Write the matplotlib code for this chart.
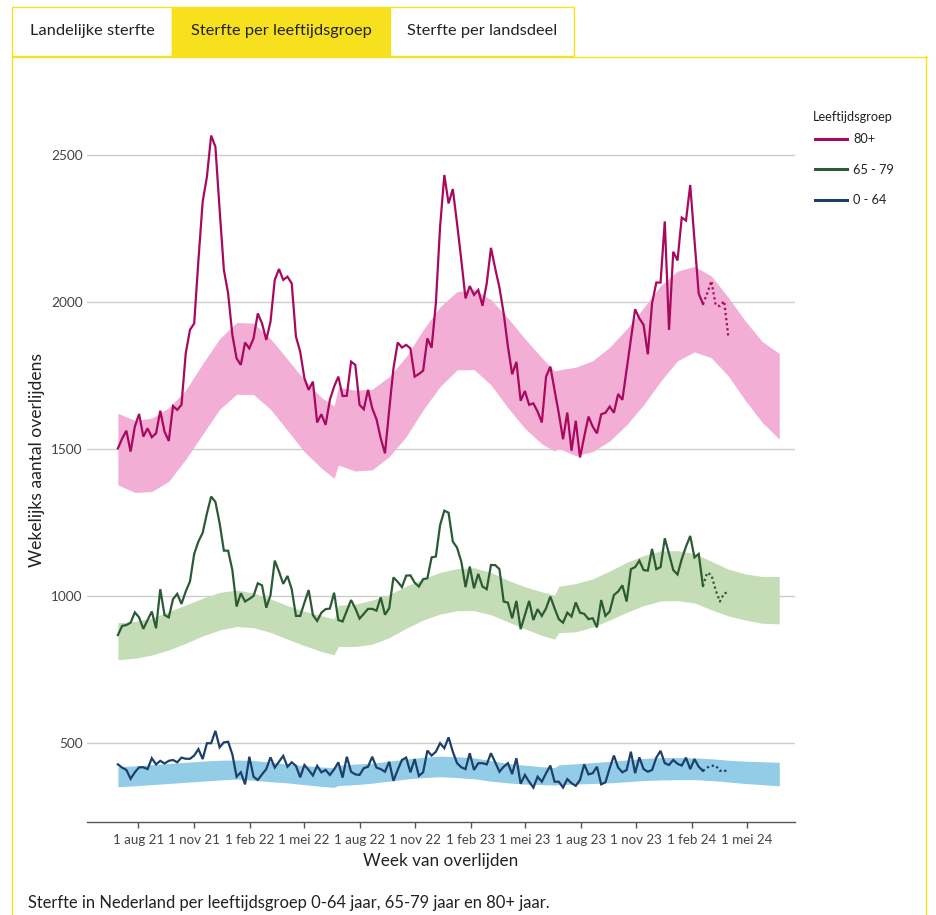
import numpy as np
import matplotlib
matplotlib.use('Agg')
import matplotlib.pyplot as plt
from matplotlib.patches import Rectangle
from matplotlib.lines import Line2D

plt.rcParams['font.family'] = ['Lato', 'DejaVu Sans']

# weekly deaths, week index 0 = week starting 2021-06-28
start_week = np.datetime64('2021-06-28')
n_solid = 139   # last weeks (index 138 onward) are provisional -> dotted

deaths_80 = [
    1502, 1535, 1562, 1491, 1576, 1619, 1542, 1570, 1540, 1553,
    1630, 1559, 1527, 1646, 1633, 1650, 1825, 1905, 1927, 2143,
    2341, 2426, 2566, 2528, 2313, 2109, 2029, 1888, 1808, 1786,
    1862, 1842, 1876, 1961, 1927, 1871, 1933, 2075, 2112, 2075,
    2086, 2063, 1882, 1831, 1740, 1701, 1729, 1590, 1618, 1582,
    1667, 1712, 1746, 1680, 1681, 1797, 1786, 1650, 1635, 1701,
    1638, 1601, 1536, 1485, 1633, 1774, 1862, 1845, 1854, 1842,
    1746, 1755, 1766, 1876, 1844, 1995, 2256, 2432, 2335, 2384,
    2267, 2143, 2012, 2054, 2024, 2041, 1987, 2063, 2184, 2114,
    2049, 1961, 1848, 1754, 1796, 1664, 1697, 1650, 1655, 1627,
    1590, 1746, 1780, 1701, 1621, 1533, 1624, 1494, 1596, 1471,
    1542, 1610, 1576, 1553, 1618, 1623, 1644, 1623, 1687, 1667,
    1769, 1871, 1975, 1944, 1922, 1822, 1995, 2066, 2066, 2274,
    1905, 2171, 2141, 2287, 2277, 2398, 2211, 2029, 1993, 2029,
    2071, 1990, 1986, 2003, 1880]

deaths_65 = [
    867, 898, 901, 909, 944, 927, 888, 918, 947, 890,
    1023, 935, 927, 989, 1007, 973, 1015, 1049, 1143, 1185,
    1215, 1281, 1338, 1320, 1247, 1154, 1154, 1088, 964, 1009,
    981, 990, 1000, 1043, 1036, 960, 1003, 1120, 1083, 1041,
    1068, 1023, 932, 932, 977, 1020, 935, 915, 943, 955,
    957, 1011, 918, 913, 950, 986, 958, 923, 939, 956,
    956, 950, 995, 936, 958, 1063, 1048, 1030, 1069, 1070,
    1045, 1032, 1057, 1060, 1131, 1134, 1241, 1290, 1283, 1185,
    1164, 1117, 1030, 1100, 1026, 1075, 1032, 1023, 1105, 1105,
    1091, 981, 977, 924, 983, 887, 935, 983, 918, 955,
    932, 958, 998, 958, 921, 909, 943, 930, 978, 943,
    939, 921, 924, 893, 986, 932, 947, 1003, 1015, 1036,
    981, 1091, 1098, 1120, 1088, 1086, 1160, 1091, 1098, 1196,
    1143, 1088, 1073, 1125, 1168, 1204, 1131, 1143, 1034, 1079,
    1071, 1020, 981, 1009, 1012]

deaths_0 = [
    427, 416, 408, 378, 400, 417, 417, 411, 448, 427,
    439, 430, 439, 442, 434, 450, 446, 446, 457, 479,
    445, 499, 499, 541, 485, 502, 504, 461, 385, 400,
    359, 453, 385, 374, 393, 411, 451, 416, 436, 456,
    419, 434, 422, 383, 425, 408, 389, 422, 400, 408,
    391, 410, 434, 382, 453, 402, 393, 391, 414, 419,
    453, 416, 411, 402, 436, 371, 408, 442, 450, 400,
    445, 388, 400, 474, 457, 470, 499, 482, 519, 470,
    431, 417, 411, 465, 408, 431, 431, 427, 465, 434,
    402, 419, 431, 394, 448, 361, 391, 368, 348, 385,
    368, 397, 423, 368, 368, 348, 377, 363, 354, 374,
    427, 393, 397, 419, 359, 366, 414, 457, 416, 400,
    408, 470, 397, 451, 411, 402, 408, 450, 473, 431,
    425, 442, 429, 423, 450, 411, 445, 419, 405, 416,
    422, 423, 405, 408, 397]

# expected range (bands), sampled at these week indices
band_weeks = [0, 4, 8, 12, 16, 20, 24, 28, 32, 36, 40, 44, 48, 51,
              52, 56, 60, 64, 68, 72, 76, 80, 84, 88, 92, 96, 100, 103,
              104, 108, 112, 116, 120, 124, 128, 132, 136, 140, 144, 148, 152, 156]

hi_80 = [1621, 1597, 1605, 1640, 1700, 1790, 1875, 1930, 1928, 1875, 1805, 1735, 1675, 1646,
         1710, 1700, 1703, 1746, 1814, 1905, 1984, 2035, 2043, 2008, 1945, 1875, 1810, 1765,
         1769, 1778, 1800, 1846, 1908, 1980, 2055, 2105, 2121, 2088, 2015, 1935, 1865, 1825]
lo_80 = [1378, 1352, 1355, 1390, 1465, 1550, 1635, 1686, 1685, 1635, 1563, 1490, 1435, 1400,
         1445, 1425, 1429, 1474, 1542, 1633, 1712, 1769, 1770, 1718, 1640, 1570, 1517, 1493,
         1502, 1477, 1491, 1527, 1582, 1650, 1730, 1800, 1830, 1810, 1748, 1665, 1590, 1533]
hi_65 = [909, 913, 924, 947, 969, 992, 1012, 1020, 1010, 990, 967, 948, 933, 922,
         968, 972, 986, 1005, 1033, 1058, 1080, 1093, 1096, 1080, 1053, 1031, 1014, 1003,
         1033, 1042, 1058, 1085, 1114, 1137, 1153, 1154, 1144, 1118, 1091, 1075, 1066, 1066]
lo_65 = [783, 788, 799, 816, 839, 864, 884, 896, 892, 876, 853, 831, 811, 800,
         828, 828, 836, 858, 890, 918, 938, 950, 950, 936, 912, 888, 866, 853,
         875, 878, 894, 918, 944, 967, 983, 984, 976, 953, 932, 918, 907, 905]
hi_0 = [419, 422, 426, 430, 434, 438, 441, 442, 440, 435, 428, 423, 418, 416,
        424, 428, 431, 438, 445, 451, 455, 453, 449, 440, 430, 424, 419, 416,
        425, 429, 433, 437, 442, 447, 450, 450, 449, 446, 441, 438, 436, 434]
lo_0 = [351, 354, 358, 362, 366, 370, 374, 377, 373, 368, 364, 358, 352, 349,
        355, 358, 363, 370, 377, 382, 385, 382, 378, 370, 364, 360, 358, 357,
        358, 360, 362, 364, 368, 372, 374, 375, 375, 372, 367, 362, 358, 354]

groups = ['80+', '65 - 79', '0 - 64']
line_colors = ['#a8095f', '#2b5b35', '#1d3f6b']
band_colors = ['#f3aed6', '#c4ddb6', '#92cce6']

tick_dates = ['2021-08-01', '2021-11-01', '2022-02-01', '2022-05-01', '2022-08-01', '2022-11-01',
              '2023-02-01', '2023-05-01', '2023-08-01', '2023-11-01', '2024-02-01', '2024-05-01']
tick_labels = ['1 aug 21', '1 nov 21', '1 feb 22', '1 mei 22', '1 aug 22', '1 nov 22',
               '1 feb 23', '1 mei 23', '1 aug 23', '1 nov 23', '1 feb 24', '1 mei 24']
tabs = ['Landelijke sterfte', 'Sterfte per leeftijdsgroep', 'Sterfte per landsdeel']

W, H = 937, 915
yellow = '#f7e11e'
txt = '#222222'

fig = plt.figure(figsize=(W / 100, H / 100), dpi=100)

# page furniture (tabs + panel frame) in pixel coords
bg = fig.add_axes([0, 0, 1, 1])
bg.set_xlim(0, W)
bg.set_ylim(H, 0)
bg.axis('off')
tab_x = [12, 172, 390, 574]
for k, name in enumerate(tabs):
    bg.add_patch(Rectangle((tab_x[k], 7), tab_x[k + 1] - tab_x[k], 49,
                           facecolor=yellow if k == 1 else 'white',
                           edgecolor=yellow, lw=1))
    bg.text((tab_x[k] + tab_x[k + 1]) / 2, 31, name, ha='center', va='center',
            fontsize=11.8, color=txt)
bg.plot([12, 927], [56.5, 56.5], color=yellow, lw=1)
bg.plot([12.5, 12.5], [56, H], color=yellow, lw=1)
bg.plot([926.5, 926.5], [56, H], color=yellow, lw=1)
bg.text(441, 861, 'Week van overlijden', ha='center', va='center', fontsize=12.3, color=txt)
bg.text(37, 460, 'Wekelijks aantal overlijdens', ha='center', va='center', rotation=90,
        fontsize=12.6, color=txt)
bg.text(28, 903, 'Sterfte in Nederland per leeftijdsgroep 0-64 jaar, 65-79 jaar en 80+ jaar.',
        ha='left', va='center', fontsize=11.9, color=txt)
bg.text(813, 117, 'Leeftijdsgroep', ha='left', va='center', fontsize=9.2, color=txt)

ax = fig.add_axes([87 / W, 1 - 821.7 / H, (795 - 87) / W, (821.7 - 80) / H])

weeks = start_week + 7 * np.arange(len(deaths_80))
bw = start_week + 7 * np.array(band_weeks)

series = [deaths_80, deaths_65, deaths_0]
his = [hi_80, hi_65, hi_0]
los = [lo_80, lo_65, lo_0]
handles = []
for k in range(3):
    ax.fill_between(bw, los[k], his[k], color=band_colors[k], lw=0, zorder=1)
    v = np.array(series[k])
    ax.plot(weeks[:n_solid], v[:n_solid], color=line_colors[k], lw=1.6, zorder=3,
            solid_joinstyle='miter')
    ax.plot(weeks[n_solid - 1:], v[n_solid - 1:], color=line_colors[k], lw=1.6,
            ls=(0, (1, 1.3)), zorder=3)
    handles.append(Line2D([], [], color=line_colors[k], lw=2.2))

ax.set_ylim(232, 2755)
ax.set_xlim(np.datetime64('2021-05-08'), np.datetime64('2024-07-20'))
ax.set_yticks([500, 1000, 1500, 2000, 2500])
ax.set_xticks(np.array(tick_dates, dtype='datetime64[D]'))
ax.set_xticklabels(tick_labels)
ax.tick_params(axis='y', length=0, pad=3, labelsize=9.8, labelcolor='#444444')
ax.tick_params(axis='x', length=4, width=1, color='#555555', pad=5, labelsize=9.6,
               labelcolor='#444444')
ax.yaxis.grid(True, color='#cccccc', lw=1)
ax.set_axisbelow(True)
for s in ['top', 'right', 'left']:
    ax.spines[s].set_visible(False)
ax.spines['bottom'].set_color('#555555')
ax.spines['bottom'].set_linewidth(1)
ax.patch.set_alpha(0)

leg = fig.legend(handles, groups, loc='upper left', bbox_to_anchor=(815 / W, 1 - 133 / H),
                 frameon=False, fontsize=9.2, borderpad=0, borderaxespad=0,
                 labelspacing=1.45, handlelength=2.5, handletextpad=0.5)
for t in leg.get_texts():
    t.set_color(txt)

fig.savefig('out.png', dpi=100)
